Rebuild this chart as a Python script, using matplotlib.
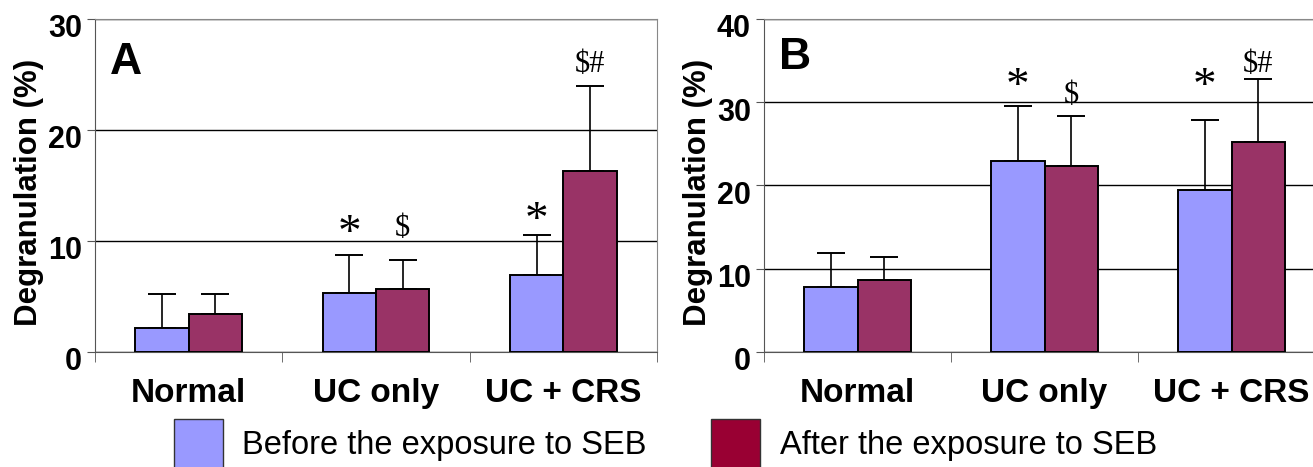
import numpy as np
import matplotlib
matplotlib.use("Agg")
import matplotlib.pyplot as plt
import matplotlib.transforms as mtrans
from matplotlib.patches import Patch

plt.rcParams['font.family'] = ['Liberation Sans', 'DejaVu Sans']

groups = ["Normal", "UC only", "UC + CRS"]
series_names = ["Before the exposure to SEB", "After the exposure to SEB"]

# panel A
a_before = [2.2, 5.3, 6.9]
a_before_err = [3.0, 3.4, 3.6]
a_after = [3.4, 5.7, 16.3]
a_after_err = [1.8, 2.6, 7.7]
a_marks_before = ["", "*", "*"]
a_marks_after = ["", "$", "$#"]
a_mark_y_before = [0, 11.0, 12.2]
a_mark_y_after = [0, 11.4, 26.2]

# panel B
b_before = [7.8, 23.0, 19.5]
b_before_err = [4.1, 6.6, 8.4]
b_after = [8.6, 22.4, 25.2]
b_after_err = [2.8, 5.9, 7.6]
b_marks_before = ["", "*", "*"]
b_marks_after = ["", "$", "$#"]
b_mark_y_before = [0, 32.3, 32.3]
b_mark_y_after = [0, 31.2, 35.0]

c_before = "#9999ff"
c_after = "#993366"
c_after_leg = "#990033"

fig = plt.figure(figsize=(13.13, 4.67), dpi=100)


def panel(rect, before, before_err, after, after_err, mk_b, mk_a, my_b, my_a, ymax, letter, ly):
    ax = fig.add_axes(rect)
    x = np.arange(len(groups))
    w = 0.285
    ax.bar(x - w/2, before, w, color=c_before, edgecolor="black", linewidth=1.4, zorder=3)
    ax.bar(x + w/2, after, w, color=c_after, edgecolor="black", linewidth=1.4, zorder=3)
    # only the upper half of the error bars is shown
    ax.errorbar(x - w/2, before, yerr=[np.zeros(3), before_err], fmt="none",
                ecolor="black", elinewidth=1.2, capsize=10, capthick=1.4, zorder=2)
    ax.errorbar(x + w/2, after, yerr=[np.zeros(3), after_err], fmt="none",
                ecolor="black", elinewidth=1.2, capsize=10, capthick=1.4, zorder=2)
    for i in range(len(groups)):
        if mk_b[i]:
            ax.text(x[i] - w/2, my_b[i], mk_b[i], ha="center", va="center_baseline",
                    fontsize=34 if mk_b[i] == "*" else 22, family="Liberation Serif")
        if mk_a[i]:
            ax.text(x[i] + w/2, my_a[i], mk_a[i], ha="center", va="center_baseline",
                    fontsize=22, family="Liberation Serif")
    ax.set_xlim(-0.5, 2.5)
    ax.set_ylim(0, ymax)
    ax.set_yticks(np.arange(0, ymax + 1, 10))
    ax.yaxis.grid(True, color="black", linewidth=1)
    ax.set_axisbelow(True)
    ax.set_xticks(x)
    ax.set_xticklabels(groups, fontsize=24, fontweight="bold")
    ax.tick_params(axis="x", length=0, pad=19)
    ax.set_xticks([-0.5, 0.5, 1.5, 2.5], minor=True)
    ax.tick_params(axis="x", which="minor", length=7, color="#555555")
    ax.tick_params(axis="y", length=6, labelsize=22, pad=3.5, color="#555555")
    shift = mtrans.ScaledTranslation(0, -5 / 72, fig.dpi_scale_trans)
    for lab in ax.get_yticklabels():
        lab.set_fontweight("bold")
        lab.set_transform(lab.get_transform() + shift)
    ax.spines["top"].set_color("#888888")
    ax.spines["right"].set_color("#888888")
    ax.spines["left"].set_color("#555555")
    ax.spines["bottom"].set_color("#555555")
    ax.set_ylabel("Degranulation (%)", fontsize=22.5, fontweight="bold", labelpad=3)
    ax.yaxis.label.set_y(0.48)
    ax.text(0.027, ly, letter, transform=ax.transAxes, fontsize=32,
            fontweight="bold", va="top")
    return ax


panel([0.0724, 0.2463, 0.428, 0.713], a_before, a_before_err, a_after, a_after_err,
      a_marks_before, a_marks_after, a_mark_y_before, a_mark_y_after, 30, "A", 0.93)
panel([0.5819, 0.2463, 0.4273, 0.713], b_before, b_before_err, b_after, b_after_err,
      b_marks_before, b_marks_after, b_mark_y_before, b_mark_y_after, 40, "B", 0.945)

handles = [Patch(facecolor=c_before, edgecolor="#333333"),
           Patch(facecolor=c_after_leg, edgecolor="#333333")]
fig.legend(handles, series_names, loc="lower left", bbox_to_anchor=(0.11, -0.064),
           ncol=2, frameon=False, fontsize=23.5, handlelength=1.5, handleheight=1.9,
           columnspacing=1.98, handletextpad=0.6)

fig.savefig("out.png", dpi=100)
